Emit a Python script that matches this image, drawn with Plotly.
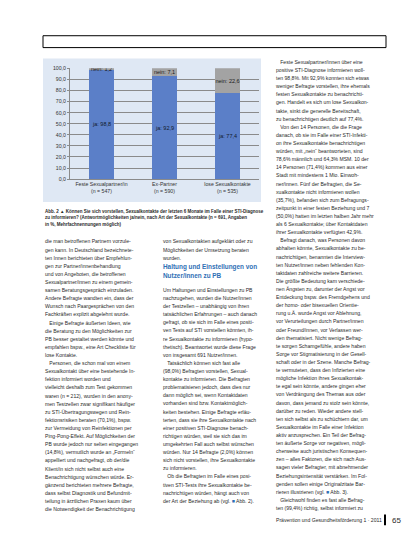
import plotly.graph_objects as go

# chart data (Angaben in %)
categories = ["Feste Sexualpartner/in<br>(n = 547)", "Ex-Partner<br>(n = 590)", "lose Sexualkontakte<br>(n = 535)"]
ja_values = [98.8, 92.9, 77.4]
nein_values = [1.2, 7.1, 22.6]
y_ticks = [0, 10, 20, 30, 40, 50, 60, 70, 80, 90, 100]

caption_lines = [
    "<b>Abb. 2 ▲ Können Sie sich vorstellen, Sexualkontakte der letzten 6 Monate im Falle einer STI-Diagnose</b>",
    "<b>zu informieren? (Antwortmöglichkeiten ja/nein, nach Art der Sexualkontakte (n = 691, Angaben</b>",
    "<b>in %, Mehrfachnennungen möglich)</b>",
]

IND = "\u00a0\u00a0\u00a0"

col1_lines = [
    "die man betroffenen Partnern vorzule-",
    "gen kann. In Deutschland bezeichnete-",
    "ten Innen berichteten über Empfehlun-",
    "gen zur Partner/innenbehandlung",
    "und von Angeboten, die betroffenen",
    "Sexualpartner/innen zu einem gemein-",
    "samen Beratungsgespräch einzuladen.",
    "Andere Befragte wandten ein, dass der",
    "Wunsch nach Paargesprächen von den",
    "Fachkräften explizit abgelehnt wurde.",
    IND + "Einige Befragte äußerten Ideen, wie",
    "die Beratung zu den Möglichkeiten zur",
    "PB besser gestaltet werden könnte und",
    "empfahlen bspw., eine Art Checkliste für",
    "lose Kontakte.",
    IND + "Personen, die schon mal von einem",
    "Sexualkontakt über eine bestehende In-",
    "fektion informiert worden und",
    "vielleicht deshalb zum Test gekommen",
    "waren (n = 212), wurden in den anony-",
    "men Testzellen zwar signifikant häufiger",
    "zu STI-Übertragungswegen und Rein-",
    "fektionsrisiken beraten (70,1%), bspw.",
    "zur Vermeidung von Reinfektionen per",
    "Ping-Pong-Effekt. Auf Möglichkeiten der",
    "PB wurde jedoch nur selten eingegangen",
    "(14,8%), vermutlich wurde an „Formeln“",
    "appelliert und nachgefragt, ob der/die",
    "Klient/in sich nicht selbst auch eine",
    "Benachrichtigung wünschen würde. Er-",
    "gänzend berichteten mehrere Befragte,",
    "dass selbst Diagnostik und Befundmit-",
    "teilung in ärztlichen Praxen kaum über",
    "die Notwendigkeit der Benachrichtigung",
]

col2_top = [
    "von Sexualkontakten aufgeklärt oder zu",
    "Möglichkeiten der Umsetzung beraten",
    "wurden.",
]
col2_heading = ["Haltung und Einstellungen von", "Nutzer/innen zu PB"]
col2_lines = [
    "Um Haltungen und Einstellungen zu PB",
    "nachzugehen, wurden die Nutzer/innen",
    "der Testzellen – unabhängig von ihren",
    "tatsächlichen Erfahrungen – auch danach",
    "gefragt, ob sie sich im Falle eines positi-",
    "ven Tests auf STI vorstellen könnten, ih-",
    "re Sexualkontakte zu informieren (hypo-",
    "thetisch). Beantwortet wurde diese Frage",
    "von insgesamt 691 Nutzer/innen.",
    IND + "Tatsächlich können sich fast alle",
    "(98,0%) Befragten vorstellen, Sexual-",
    "kontakte zu informieren. Die Befragten",
    "problematisieren jedoch, dass dies nur",
    "dann möglich sei, wenn Kontaktdaten",
    "vorhanden sind bzw. Kontaktmöglich-",
    "keiten bestehen. Einige Befragte erläu-",
    "terten, dass sie ihre Sexualkontakte nach",
    "einer positiven STI-Diagnose benach-",
    "richtigen würden, weil sie sich das im",
    "umgekehrten Fall auch selbst wünschen",
    "würden. Nur 14 Befragte (2,0%) können",
    "sich nicht vorstellen, ihre Sexualkontakte",
    "zu informieren.",
    IND + "Ob die Befragten im Falle eines posi-",
    "tiven STI-Tests ihre Sexualkontakte be-",
    "nachrichtigen würden, hängt auch von",
    "der Art der Beziehung ab (vgl. <span style='color:#2f6fb5'>■</span> Abb. 2).",
]

col3_lines = [
    IND + "Feste Sexualpartner/innen über eine",
    "positive STI-Diagnose informieren woll-",
    "ten 98,8%. Mit 92,9% konnten sich etwas",
    "weniger Befragte vorstellen, ihre ehemals",
    "festen Sexualkontakte zu benachrichti-",
    "gen. Handelt es sich um lose Sexualkon-",
    "takte, sinkt die generelle Bereitschaft,",
    "zu benachrichtigen deutlich auf 77,4%.",
    IND + "Von den 14 Personen, die die Frage",
    "danach, ob sie im Falle einer STI-Infekti-",
    "on ihre Sexualkontakte benachrichtigen",
    "würden, mit „nein“ beantworteten, sind",
    "78,6% männlich und 64,3% MSM. 10 der",
    "14 Personen (71,4%) kommen aus einer",
    "Stadt mit mindestens 1 Mio. Einwoh-",
    "ner/innen. Fünf der Befragten, die Se-",
    "xualkontakte nicht informieren wollen",
    "(35,7%), befanden sich zum Befragungs-",
    "zeitpunkt in einer festen Beziehung und 7",
    "(50,0%) hatten im letzten halben Jahr mehr",
    "als 6 Sexualkontakte; über Kontaktdaten",
    "ihrer Sexualkontakte verfügten 42,9%.",
    IND + "Befragt danach, was Personen davon",
    "abhalten könnte, Sexualkontakte zu be-",
    "nachrichtigen, benannten die Interview-",
    "ten Nutzer/innen neben fehlenden Kon-",
    "taktdaten zahlreiche weitere Barrieren.",
    "Die größte Bedeutung kam verschiede-",
    "nen Ängsten zu, darunter der Angst vor",
    "Entdeckung bspw. des Fremdgehens und",
    "der homo- oder bisexuellen Orientie-",
    "rung u.Ä. wurde Angst vor Ablehnung,",
    "vor Verurteilungen durch Partner/innen",
    "oder Freund/innen, vor Verlassen wer-",
    "den thematisiert. Nicht wenige Befrag-",
    "te sorgen Schamgefühle, andere haben",
    "Sorge vor Stigmatisierung in der Gesell-",
    "schaft oder in der Szene. Manche Befrag-",
    "te vermuteten, dass den Infizierten eine",
    "mögliche Infektion ihres Sexualkontak-",
    "te egal sein könnte, andere gingen eher",
    "von Verdrängung des Themas aus oder",
    "davon, dass jemand zu stolz sein könnte,",
    "darüber zu reden. Wieder andere stell-",
    "ten sich selbst als zu schüchtern dar, um",
    "Sexualkontakte im Falle einer Infektion",
    "aktiv anzusprechen. Ein Teil der Befrag-",
    "ten äußerte Sorge vor negativen, mögli-",
    "cherweise auch juristischen Konsequen-",
    "zen – alles Faktoren, die sich nach Aus-",
    "sagen vieler Befragter, mit abnehmender",
    "Beziehungsintensität verstärken. Im Fol-",
    "genden sollen einige Originalzitate Bar-",
    "rieren illustrieren (vgl. <span style='color:#2f6fb5'>■</span> Abb. 3).",
    IND + "Gleichwohl finden es fast alle Befrag-",
    "ten (99,4%) richtig, selbst informiert zu",
]

footer_text = "Prävention und Gesundheitsförderung 1 · 2011"
page_number = "65"

W, H = 413, 550
BLUE = "#5b7fc8"
GREY = "#a3a3a3"
TEXT_FONT = "Liberation Sans"


def px(x):
    return x / W


def py(y):
    return 1 - y / H


fig = go.Figure()
fig.add_trace(go.Bar(
    x=categories, y=ja_values, marker_color=BLUE, marker_line_width=0,
    texttemplate="ja: %{y:.1f}", textposition="inside", insidetextanchor="middle",
    textfont=dict(size=5.5, color="#111a2b", family=TEXT_FONT),
))
fig.add_trace(go.Bar(
    x=categories, y=nein_values, marker_color=GREY, marker_line_width=0,
    texttemplate="nein: %{y:.1f}", textposition="inside", insidetextanchor="middle",
    textfont=dict(size=5.5, color="#1a1a1a", family=TEXT_FONT),
))

shapes = [
    # chart background panel
    dict(type="rect", xref="paper", yref="paper", x0=px(35), x1=px(253), y0=py(193), y1=py(48),
         fillcolor="#dfe8f4", line_width=0, layer="below"),
    # header frame
    dict(type="rect", xref="paper", yref="paper", x0=px(35), x1=px(378), y0=py(37), y1=py(25),
         line=dict(color="black", width=1), fillcolor="rgba(0,0,0,0)"),
    # footer bar
    dict(type="rect", xref="paper", yref="paper", x0=px(376), x1=px(378), y0=py(520), y1=py(509),
         fillcolor="black", line_width=0),
]

annotations = []


def add_line(text, x, y, size=5.1, color="#2a2a2a", family=TEXT_FONT):
    annotations.append(dict(text=text, x=px(x), y=py(y), xref="paper", yref="paper",
                            xanchor="left", yanchor="middle", showarrow=False,
                            font=dict(size=size, color=color, family=family)))


PITCH = 8.2
for i, t in enumerate(caption_lines):
    add_line(t, 35, 202.5 + i * 6.5, size=4.5)
for i, t in enumerate(col1_lines):
    add_line(t, 35, 233 + i * PITCH)
for i, t in enumerate(col2_top):
    add_line(t, 153, 233 + i * PITCH)
for i, t in enumerate(col2_heading):
    add_line("<b>" + t + "</b>", 153, 259 + i * 8.8, size=6.4, color="#2f6fb5")
for i, t in enumerate(col2_lines):
    add_line(t, 153, 282 + i * PITCH)
for i, t in enumerate(col3_lines):
    add_line(t, 266, 51.5 + i * PITCH)
add_line(footer_text, 266, 515, size=5.1)
add_line(page_number, 382, 515, size=8)

fig.update_layout(
    width=W, height=H,
    margin=dict(l=0, r=0, t=0, b=0),
    paper_bgcolor="white",
    plot_bgcolor="rgba(0,0,0,0)",
    barmode="stack",
    bargap=0.6,
    showlegend=False,
    separators=",.",
    uniformtext=dict(minsize=5.5, mode="show"),
    shapes=shapes,
    annotations=annotations,
    xaxis=dict(domain=[px(62), px(251)], showgrid=False, ticks="",
               tickfont=dict(size=5.2, color="#333333", family=TEXT_FONT),
               showline=True, linecolor="#8a8a8a", linewidth=1),
    yaxis=dict(domain=[py(170), py(58)], range=[0, 100], tickvals=y_ticks, tickformat=".1f",
               showgrid=True, gridcolor="#8a8a8a", gridwidth=1, zeroline=False,
               showline=True, linecolor="#8a8a8a", linewidth=1, ticks="outside", ticklen=2,
               tickcolor="#8a8a8a", tickfont=dict(size=5.2, color="#333333", family=TEXT_FONT)),
)

fig.write_html("out.html")
